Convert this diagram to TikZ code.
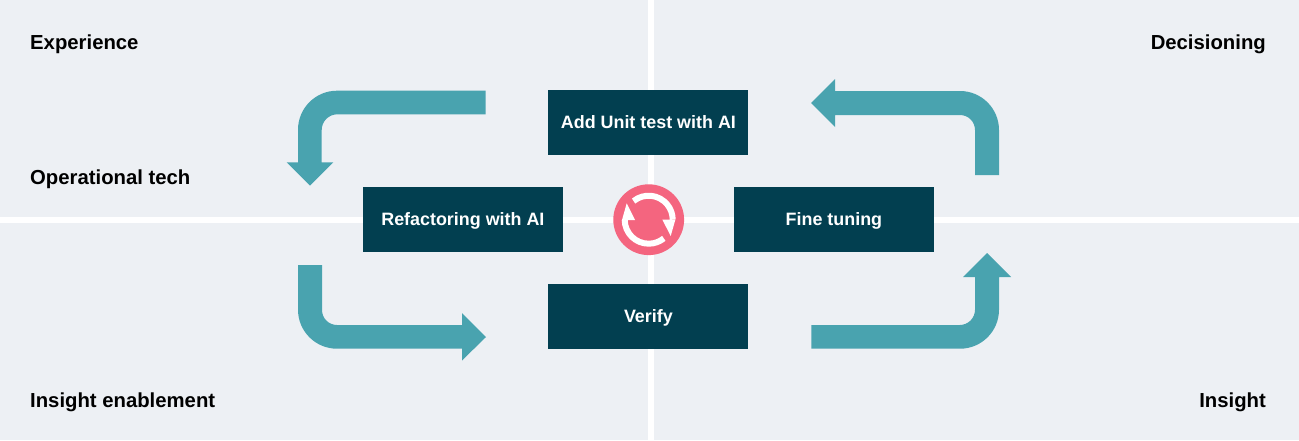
\documentclass[tikz,border=0pt]{standalone}
\usepackage{fontspec}
\setmainfont{Liberation Sans}[BoldFont=* Bold]
\definecolor{panel}{HTML}{EDF0F4}
\definecolor{boxc}{HTML}{023F50}
\definecolor{arrowc}{HTML}{49A3AF}
\definecolor{pink}{HTML}{F4657F}
\tikzset{
  x=1pt,y=-1pt,
  stepbox/.style={fill=boxc,text=white,minimum width=200pt,minimum height=65.5pt,inner sep=0pt,text height=13pt,text depth=1.4pt,font=\fontsize{17.9}{20}\selectfont\bfseries},
  corner/.style={text=black,inner sep=0pt,font=\fontsize{20.3}{22}\selectfont\bfseries},
  blockarrow/.style={fill=arrowc,draw=none},
  divider/.style={draw=white,line width=6pt},
  ringarc/.style={draw=white,line width=6pt},
}
\begin{document}
\begin{tikzpicture}
\useasboundingbox (0,0) rectangle (1299,440);
\fill[panel] (0,0) rectangle (1299,440);
\draw[divider] (650.7,0) -- (650.7,440);
\draw[divider] (0,219.7) -- (1299,219.7);
% block arrows
\fill[blockarrow] (485.7,90.7) -- (337,90.7) arc[start angle=-90,end angle=-180,radius=39] -- (298,162.3) -- (286.7,162.3) -- (310,185.7) -- (333.3,162.3) -- (321.7,162.3) -- (321.7,130) arc[start angle=-180,end angle=-90,radius=15.7] -- (485.7,114.3) -- cycle;
\fill[blockarrow] (811.3,348.7) -- (960,348.7) arc[start angle=-270,end angle=-360,radius=39] -- (999,277) -- (1011,277) -- (987,253) -- (963,277) -- (975,277) -- (975,309.7) arc[start angle=0,end angle=90,radius=15.3] -- (811.3,325) -- cycle;
\fill[blockarrow] (999,175) -- (999,130) arc[start angle=0,end angle=-90,radius=39] -- (835,91) -- (835,79) -- (811,103) -- (835,127) -- (835,115) -- (960,115) arc[start angle=-90,end angle=0,radius=15] -- (975,175) -- cycle;
\fill[blockarrow] (298,265) -- (298,309.7) arc[start angle=-180,end angle=-270,radius=39] -- (462,348.7) -- (462,360.5) -- (486,337) -- (462,313) -- (462,325) -- (337,325) arc[start angle=-270,end angle=-180,radius=15] -- (322,265) -- cycle;
% steps
\node[stepbox] (add) at (648.4,122.4) {Add Unit test with AI};
\node[stepbox] (refactor) at (462.9,219.5) {Refactoring with AI};
\node[stepbox] (tune) at (833.9,219.5) {Fine tuning};
\node[stepbox] (verify) at (648.4,316.5) {Verify};
% icon
\fill[pink] (648.7,219.7) circle[radius=35.4];
\begin{scope}[shift={(648.7,219.7)}]
\draw[ringarc] (-129:24) arc[start angle=-129,end angle=0,radius=24];
\draw[ringarc] (-180:24) arc[start angle=-180,end angle=-309,radius=24];
\end{scope}
\fill[white] (626.7,203.3) -- (622,220) -- (635,220) -- cycle;
\fill[white] (670.7,236) -- (662.3,219.5) -- (675.4,219.5) -- cycle;
% labels
\node[corner,anchor=west] (exp) at (30,44) {Experience};
\node[corner,anchor=west] (op) at (30,179) {Operational tech};
\node[corner,anchor=west] (ie) at (30,402) {Insight enablement};
\node[corner,anchor=east] (dec) at (1266,44) {Decisioning};
\node[corner,anchor=east] (ins) at (1266,402) {Insight};
\end{tikzpicture}
\end{document}
